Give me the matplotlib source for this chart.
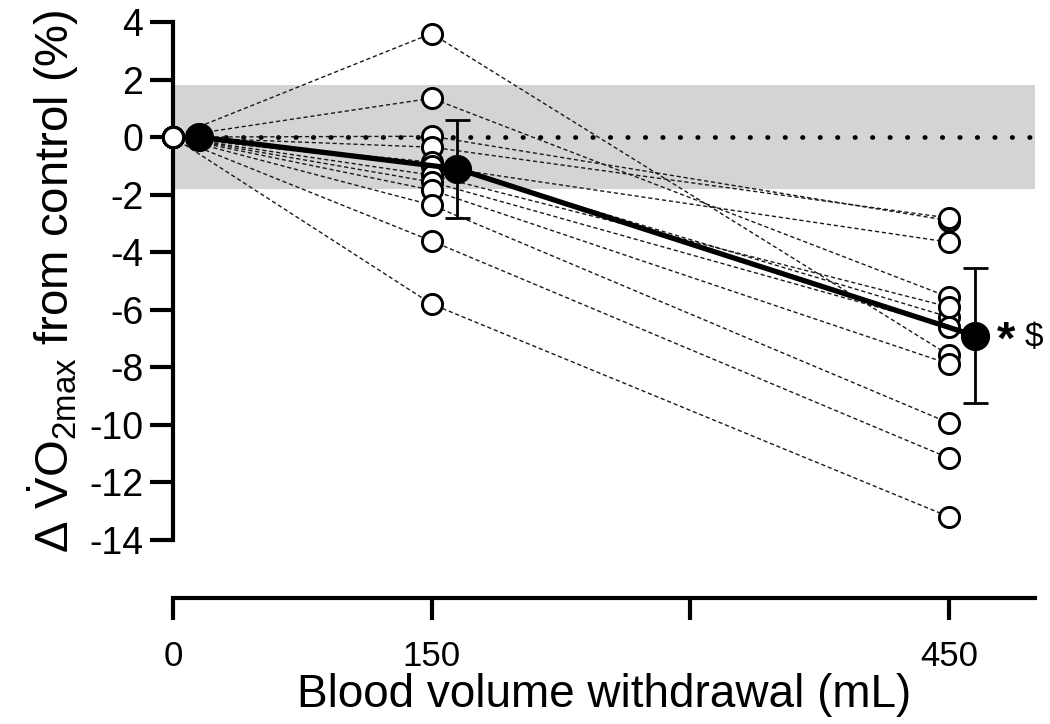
import numpy as np
import matplotlib.pyplot as plt

# blood volume withdrawn (mL) and change in VO2max from control (%)
volumes = [0, 150, 450]
subj_150 = [3.6, 1.35, 0.03, -0.35, -0.87, -1.0, -1.32, -1.56, -1.84, -2.36, -3.61, -5.8]
subj_450 = [-7.57, -5.56, -2.9, -2.81, -6.25, -3.65, -5.9, -6.6, -7.88, -9.93, -11.15, -13.19]
mean_vals = [0.0, -1.1, -6.9]
sd_vals = [0.0, 1.7, 2.35]
mean_offset = 15  # mean points drawn a bit right of the individuals
band = (-1.8, 1.8)

plt.rcParams['font.family'] = ['Liberation Sans', 'DejaVu Sans']
plt.rcParams['mathtext.fontset'] = 'custom'
plt.rcParams['mathtext.rm'] = 'Liberation Sans'
plt.rcParams['mathtext.it'] = 'Liberation Sans:italic'
plt.rcParams['axes.unicode_minus'] = False

fig = plt.figure(figsize=(10.5, 7.24), dpi=100)
ax = fig.add_axes([173 / 1050, 184 / 724, 862 / 1050, 518 / 724])

ax.axhspan(band[0], band[1], color='#d4d4d4', lw=0, zorder=0)
ax.axhline(0, color='black', lw=3.4, ls=(0, (0.1, 3.6)), dash_capstyle='round', zorder=1)

for a, b in zip(subj_150, subj_450):
    ax.plot(volumes, [0, a, b], color='#1a1a1a', lw=1.0, ls=(0, (3, 2)), zorder=2)
    ax.plot(volumes, [0, a, b], 'o', ms=14.5, mfc='white', mec='black', mew=2.1,
            ls='none', zorder=3, clip_on=False)

mx = [v + mean_offset for v in volumes]
ax.errorbar(mx[1:], mean_vals[1:], yerr=sd_vals[1:], fmt='none', ecolor='black',
            elinewidth=2, capsize=9, capthick=2, zorder=4)
ax.plot(mx, mean_vals, '-o', color='black', lw=3.8, ms=20, zorder=5, clip_on=False)

ax.text(mx[2] + 13, mean_vals[2] - 0.2, '*', fontsize=34, fontweight='bold',
        ha='left', va='center')
ax.text(mx[2] + 29, mean_vals[2] - 0.05, r'\$', fontsize=24, ha='left', va='center')

ax.set_xlim(0, 500)
ax.set_ylim(-14, 4)
ax.set_yticks(np.arange(-14, 5, 2))
ax.set_xticks([0, 150, 300, 450])
ax.set_xticklabels(['0', '150', '', '450'])
ax.tick_params(axis='y', labelsize=27, width=3, length=16.5, pad=5)
ax.tick_params(axis='x', labelsize=25, width=3, length=16, pad=14)

for s in ['top', 'right']:
    ax.spines[s].set_visible(False)
ax.spines['left'].set_linewidth(3)
ax.spines['left'].set_bounds(-14, 4)
ax.spines['bottom'].set_linewidth(3)
ax.spines['bottom'].set_position(('outward', 42))

ax.set_xlabel('Blood volume withdrawal (mL)', fontsize=33, labelpad=0)
ax.set_ylabel(r'$\Delta\ \dot{\mathrm{V}}\mathrm{O}_{2\mathrm{max}}$ from control (%)',
              fontsize=34, labelpad=6)

fig.savefig('out.png', dpi=100)
